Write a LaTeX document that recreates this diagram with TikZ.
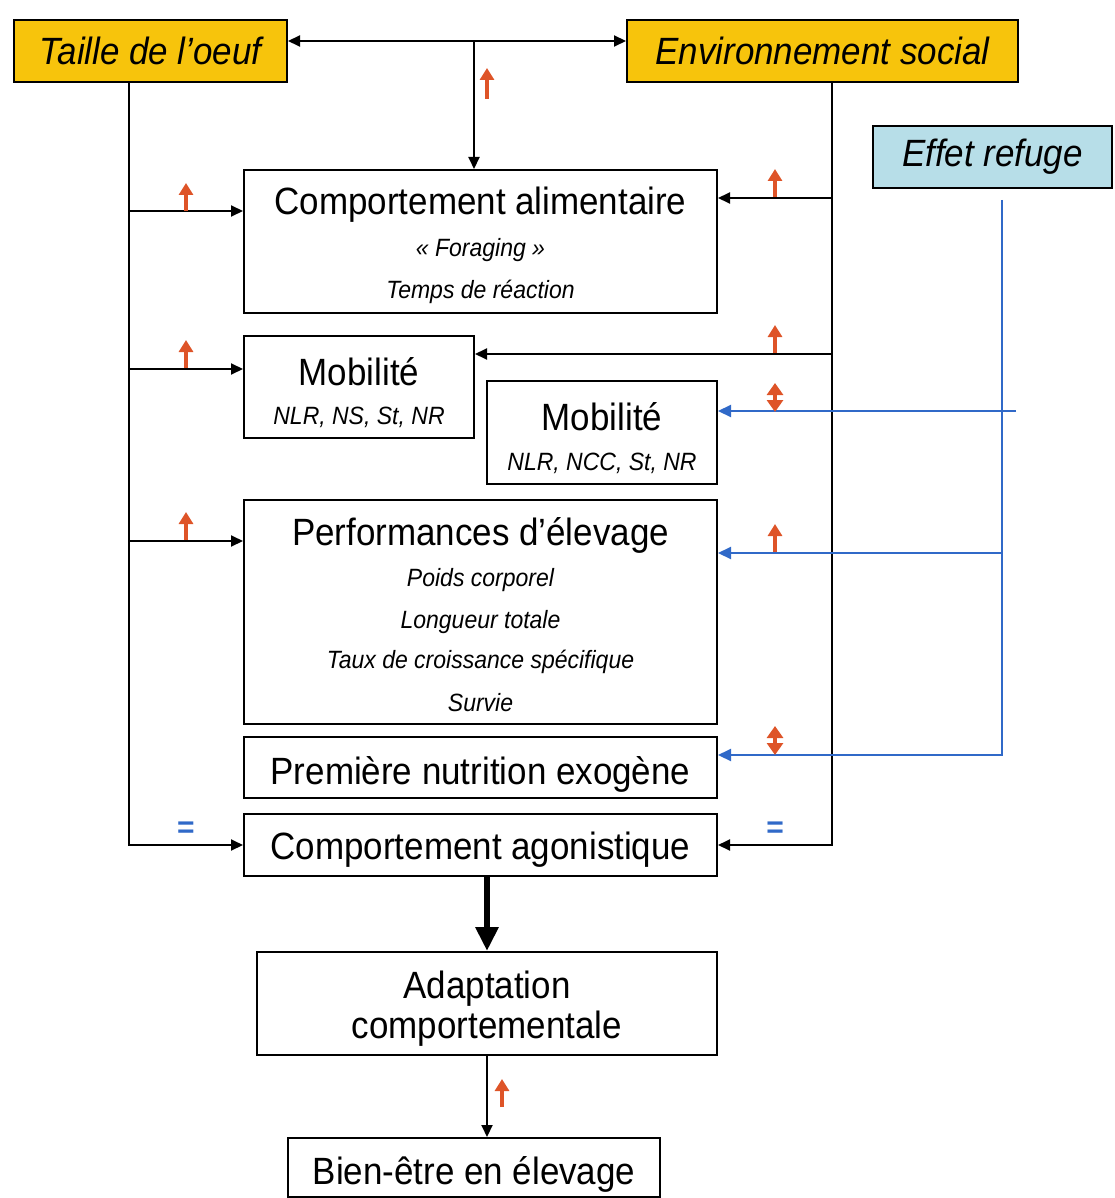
\documentclass[tikz,border=0pt]{standalone}
\usepackage{fontspec}
\setmainfont{Liberation Sans}
\newfontfamily\condfont[FakeStretch=0.92]{Liberation Sans}
\usetikzlibrary{arrows.meta}
\definecolor{goldc}{RGB}{247,196,12}
\definecolor{refugec}{RGB}{183,222,232}
\definecolor{redc}{RGB}{222,84,40}
\definecolor{bluec}{RGB}{48,105,200}
\newcommand\headf{\condfont\fontsize{19}{20}\selectfont}
\newcommand\subf{\condfont\fontsize{12.5}{15}\selectfont\itshape}
\begin{document}
\begin{tikzpicture}[x=0.5pt,y=-0.5pt,
  box/.style={draw=black, line width=1pt, fill=white, inner sep=0pt},
  txt/.style={inner sep=0pt, anchor=center, font=\headf},
  stxt/.style={inner sep=0pt, anchor=center, font=\subf},
  conn/.style={draw=black, line width=1pt},
  bconn/.style={draw=bluec, line width=1.1pt},
  tipk/.style={-{Triangle[length=6pt,width=5.5pt]}},
  tipb/.style={-{Triangle[length=6.5pt,width=6pt,color=bluec]}},
  redup/.style={draw=redc, line width=2.4pt, -{Triangle[length=6pt,width=7pt]}},
  redud/.style={draw=redc, line width=2.4pt, {Triangle[length=6pt,width=8pt]}-{Triangle[length=6pt,width=8pt]}},
  eqs/.style={inner sep=0pt, text=bluec, font=\bfseries\fontsize{15}{15}\selectfont}]
\useasboundingbox (0,0) rectangle (1114,1198);
% top boxes
\node[box, fill=goldc, minimum width=136.5pt, minimum height=31pt, font=\headf\itshape] (taille) at (150.5,51) {Taille de l’oeuf};
\node[box, fill=goldc, minimum width=195.5pt, minimum height=31pt, font=\headf\itshape] (env) at (822.5,51) {Environnement social};
\node[box, fill=refugec, minimum width=119.5pt, minimum height=31pt, font=\headf\itshape] (refuge) at (992.5,157) {Effet refuge};
% comportement alimentaire
\node[box, minimum width=236.5pt, minimum height=71.5pt] (ca) at (480.5,241.5) {};
\node[txt] (catitle) at (480.5,205) {Comportement alimentaire};
\node[stxt] (ca1) at (480.5,250) {« Foraging »};
\node[stxt] (ca2) at (480.5,292) {Temps de réaction};
% mobilite 1
\node[box, minimum width=115pt, minimum height=51pt] (mob1) at (359,387) {};
\node[txt] (mob1t) at (359,372) {Mobilité};
\node[stxt] (mob1s) at (359,417) {NLR, NS, St, NR};
% mobilite 2
\node[box, minimum width=115pt, minimum height=51.5pt] (mob2) at (602,432.5) {};
\node[txt] (mob2t) at (602,417) {Mobilité};
\node[stxt] (mob2s) at (602,463) {NLR, NCC, St, NR};
% performances
\node[box, minimum width=236.5pt, minimum height=112pt] (perf) at (480.5,612) {};
\node[txt] (perft) at (480.5,535) {Performances d’élevage};
\node[stxt] (perf1) at (480.5,580) {Poids corporel};
\node[stxt] (perf2) at (480.5,622) {Longueur totale};
\node[stxt] (perf3) at (480.5,662) {Taux de croissance spécifique};
\node[stxt] (perf4) at (480.5,703) {Survie};
% PNE, CAg
\node[box, minimum width=236.5pt, minimum height=30.5pt] (pne) at (480.5,767.5) {};
\node[txt] (pnet) at (480.5,774) {Première nutrition exogène};
\node[box, minimum width=236.5pt, minimum height=31pt] (cag) at (480.5,845) {};
\node[txt] (cagt) at (480.5,850) {Comportement agonistique};
% adaptation, bien-etre
\node[box, minimum width=230pt, minimum height=51.5pt] (adapt) at (487,1003.5) {};
\node[txt] (adapt1) at (487,989) {Adaptation};
\node[txt] (adapt2) at (487,1029) {comportementale};
\node[box, minimum width=186pt, minimum height=29.5pt] (bien) at (474,1167.5) {};
\node[txt] (bient) at (474,1174) {Bien-être en élevage};
% coordinates
\coordinate (tj) at (474,41);
\coordinate (L) at (129,0);
\coordinate (R) at (832,0);
\coordinate (l1) at (129,211);
\coordinate (l2) at (129,369);
\coordinate (l3) at (129,541);
\coordinate (r1) at (832,198);
\coordinate (r2) at (832,354);
\coordinate (bt) at (1002,200);
\coordinate (b1) at (1016,411);
\coordinate (b2) at (1002,553);
\coordinate (b3) at (1002,755);
% black connectors
\draw[conn, {Triangle[length=6pt,width=5.5pt]}-{Triangle[length=6pt,width=5.5pt]}] (taille.east |- tj) -- (env.west |- tj);
\draw[conn, tipk] (tj) -- (ca.north -| tj);
\draw[conn, tipk] (taille.south -| L) |- (cag.west);
\draw[conn, tipk] (l1) -- (ca.west |- l1);
\draw[conn, tipk] (l2) -- (mob1.west |- l2);
\draw[conn, tipk] (l3) -- (perf.west |- l3);
\draw[conn, tipk] (env.south -| R) |- (cag.east);
\draw[conn, tipk] (r1) -- (ca.east |- r1);
\draw[conn, tipk] (r2) -- (mob1.east |- r2);
% blue connectors
\draw[bconn, tipb] (bt) -- (b3) -- (pne.east |- b3);
\draw[bconn, tipb] (b1) -- (mob2.east |- b1);
\draw[bconn, tipb] (b2) -- (perf.east |- b2);
% bottom arrows
\draw[conn, line width=3pt, -{Triangle[length=12pt,width=11pt]}] (adapt.north |- cag.south) -- (adapt.north);
\draw[conn, tipk] (adapt.south) -- (bien.north -| adapt.south);
% red markers
\draw[redup] (487,99) -- (487,68);
\draw[redup] (186,211) -- (186,183);
\draw[redup] (186,368) -- (186,340);
\draw[redup] (186,540) -- (186,512);
\draw[redup] (775,197) -- (775,169);
\draw[redup] (775,353) -- (775,325);
\draw[redud] (775,383) -- (775,412);
\draw[redup] (775,552) -- (775,524);
\draw[redud] (775,726) -- (775,755);
\draw[redup] (502,1107) -- (502,1079);
% equal signs
\node[eqs] (eq1) at (186,830) {=};
\node[eqs] (eq2) at (775,830) {=};
\end{tikzpicture}
\end{document}
